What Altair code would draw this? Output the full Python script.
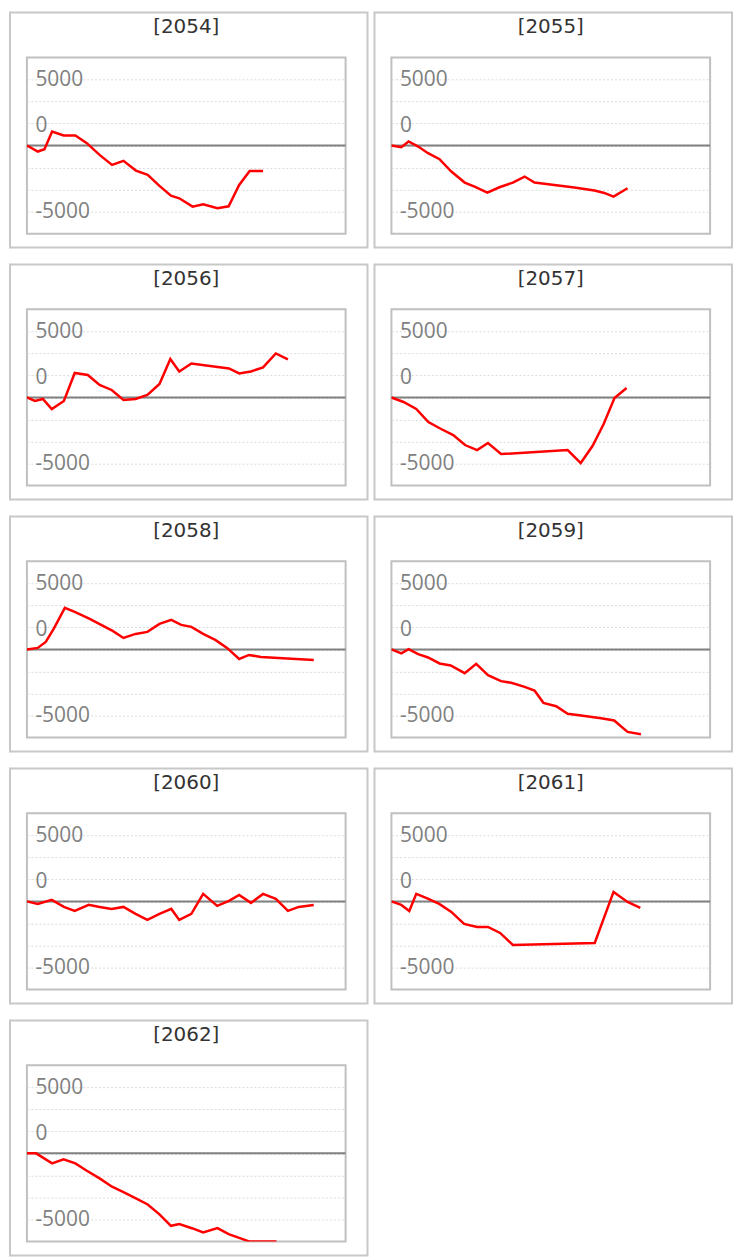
import altair as alt
import pandas as pd

years = [2054, 2055, 2056, 2057, 2058, 2059, 2060, 2061, 2062]

t_2054 = [0, 0.6, 3.4, 5.5, 7.9, 11.5, 15.2, 18.8, 22.8, 26.7, 30.3, 34.2, 37.9, 41.5, 45.2, 47.8, 52.0, 55.3, 59.8, 63.3, 66.6, 69.9, 74.1]
v_2054 = [0, -76, -455, -278, 1060, 758, 758, 177, -707, -1465, -1162, -1894, -2222, -3030, -3788, -3990, -4621, -4444, -4747, -4596, -2980, -1919, -1919]

t_2055 = [0, 3.1, 5.4, 8.4, 11.5, 15.1, 18.8, 23.0, 26.1, 30.1, 33.9, 38.1, 41.8, 44.9, 51.1, 57.4, 63.7, 66.8, 69.7, 74.1]
v_2055 = [0, -126, 303, -76, -581, -1035, -1970, -2803, -3106, -3561, -3157, -2803, -2348, -2803, -2980, -3182, -3409, -3586, -3864, -3232]

t_2056 = [0, 2.5, 5.0, 7.8, 11.6, 15.0, 19.1, 22.8, 26.6, 30.3, 34.1, 37.8, 41.6, 45.0, 47.8, 51.6, 63.4, 66.6, 70.3, 74.1, 78.1, 81.9]
v_2056 = [0, -265, -114, -871, -265, 1856, 1705, 947, 568, -189, -114, 189, 1023, 2917, 1970, 2576, 2197, 1818, 1970, 2273, 3333, 2879]

t_2057 = [0, 3.8, 7.8, 11.6, 15.6, 19.4, 23.1, 26.9, 30.3, 34.4, 55.3, 59.4, 63.1, 66.6, 70.0, 73.8]
v_2057 = [0, -341, -871, -1856, -2386, -2841, -3598, -3977, -3447, -4280, -3977, -4962, -3674, -2008, -38, 720]

t_2058 = [0, 3.4, 5.9, 8.4, 11.9, 15.0, 19.7, 26.9, 30.3, 34.1, 37.8, 41.6, 45.3, 48.4, 51.6, 55.3, 59.1, 62.8, 66.6, 69.7, 73.4, 90.0]
v_2058 = [0, 114, 568, 1553, 3144, 2841, 2311, 1402, 871, 1174, 1326, 1932, 2235, 1856, 1705, 1174, 720, 114, -720, -417, -568, -795]

t_2059 = [0, 3.1, 5.4, 8.4, 11.5, 15.1, 18.6, 23.0, 26.6, 30.3, 34.4, 37.6, 41.8, 44.9, 47.7, 51.7, 55.3, 59.5, 65.8, 69.9, 74.1, 78.3]
v_2059 = [0, -303, 25, -354, -606, -1061, -1212, -1793, -1086, -1944, -2399, -2525, -2828, -3106, -4040, -4293, -4873, -4999, -5201, -5378, -6237, -6414]

t_2060 = [0, 3.4, 7.8, 11.6, 15.0, 19.4, 22.8, 26.6, 30.3, 34.1, 37.8, 41.6, 45.3, 47.8, 51.6, 55.3, 59.7, 63.4, 66.6, 70.3, 74.1, 78.1, 81.9, 85.3, 90.0]
v_2060 = [0, -189, 114, -417, -720, -265, -417, -568, -417, -947, -1402, -947, -568, -1402, -947, 568, -341, 38, 492, -114, 568, 189, -720, -417, -265]

t_2061 = [0, 3.1, 5.6, 7.8, 11.6, 15.0, 18.8, 22.8, 26.9, 30.3, 34.1, 38.1, 63.8, 69.7, 74.1, 78.1]
v_2061 = [0, -265, -720, 568, 189, -189, -795, -1705, -1932, -1932, -2386, -3295, -3144, 720, -38, -492]

t_2062 = [0, 2.9, 7.9, 11.5, 15.2, 18.8, 22.8, 26.7, 30.3, 34.2, 37.9, 41.5, 45.2, 47.8, 52.0, 55.3, 59.8, 63.3, 66.6, 69.7, 78.3]
v_2062 = [0, 0, -758, -455, -758, -1313, -1894, -2525, -2929, -3409, -3864, -4596, -5479, -5353, -5681, -5984, -5656, -6111, -6389, -6660, -6660]

series_t = [t_2054, t_2055, t_2056, t_2057, t_2058, t_2059, t_2060, t_2061, t_2062]
series_v = [v_2054, v_2055, v_2056, v_2057, v_2058, v_2059, v_2060, v_2061, v_2062]

y_domain = [-20000 / 3, 20000 / 3]
y_ticks = [-5000, -10000 / 3, -5000 / 3, 0, 5000 / 3, 10000 / 3, 5000]
x_domain = [0, 100]

W, H = 320, 177

y_axis = alt.Axis(
    values=y_ticks,
    labelExpr="datum.value == 5000 ? '5000' : datum.value == -5000 ? '-5000' : datum.value == 0 ? '0' : ''",
    ticks=False,
    domain=False,
    grid=True,
    gridColor="#dadada",
    gridDash=[2, 2],
    gridWidth=1,
    labelAlign="left",
    labelBaseline="middle",
    labelPadding=-8,
    labelFont="Open Sans",
    labelFontSize=21,
    labelColor="#808080",
    labelOverlap=False,
    labelFlush=False,
    labelOffset={"condition": {"test": "datum.value == 0", "value": -20}, "value": 0},
    title=None,
)


def panel(year, ts, vs):
    df = pd.DataFrame({"t": ts, "v": vs})
    y_enc = alt.Y("v:Q", scale=alt.Scale(domain=y_domain, nice=False, zero=False), axis=y_axis)
    box = alt.Chart(pd.DataFrame({"k": [0]})).mark_rect(
        filled=False, stroke="#c8c8c8", strokeWidth=2
    ).encode(x=alt.value(-17), x2=alt.value(W + 22), y=alt.value(-45), y2=alt.value(H + 14))
    zero = alt.Chart(pd.DataFrame({"v": [0]})).mark_rule(
        color="#808080", strokeWidth=2
    ).encode(y=y_enc)
    line = alt.Chart(df).mark_line(color="#ff0000", strokeWidth=2.5, clip=True).encode(
        x=alt.X("t:Q", scale=alt.Scale(domain=x_domain, nice=False, zero=False), axis=None),
        y=y_enc,
    )
    title = alt.Chart(pd.DataFrame({"label": [f"[{year}]"]})).mark_text(
        font="DejaVu Sans", fontSize=20, color="#333333", align="center", baseline="middle"
    ).encode(x=alt.value(W / 2), y=alt.value(-30), text="label:N")
    return alt.layer(box, zero, line, title).properties(width=W, height=H)


panels = [panel(y, t, v) for y, t, v in zip(years, series_t, series_v)]

chart = alt.concat(*panels, columns=2, spacing={"row": 13, "column": 3}).properties(
    padding={"left": 0, "top": 0, "right": 0, "bottom": 0},
    autosize=alt.AutoSizeParams(type="pad"),
).configure_view(stroke="#c0c0c0", strokeWidth=2)

chart.save("out.html", embed_options={"renderer": "svg", "actions": False})
